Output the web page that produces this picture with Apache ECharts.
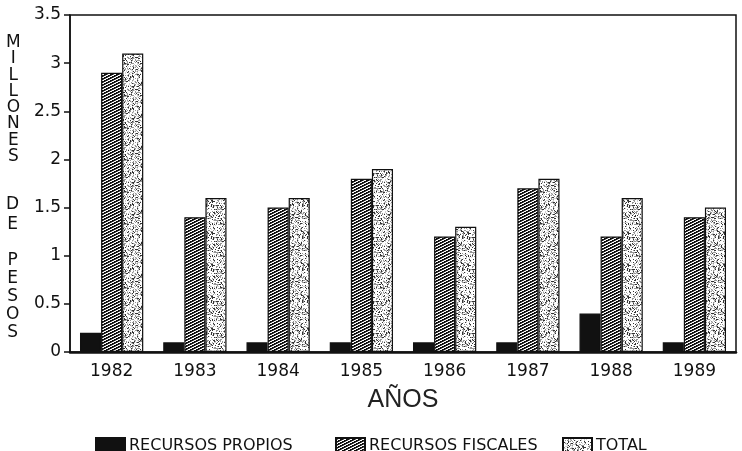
<!DOCTYPE html>
<html>
<head>
<meta charset="utf-8">
<script src="https://cdn.jsdelivr.net/npm/echarts@6/dist/echarts.min.js"></script>
<style>html,body{margin:0;padding:0;background:#fff}#c{width:742px;height:451px}</style>
</head>
<body>
<div id="c"></div>
<script>
var years = ['1982','1983','1984','1985','1986','1987','1988','1989'];
var propios = [0.2, 0.1, 0.1, 0.1, 0.1, 0.1, 0.4, 0.1];
var fiscales = [2.9, 1.4, 1.5, 1.8, 1.2, 1.7, 1.2, 1.4];
var total = [3.1, 1.6, 1.6, 1.9, 1.3, 1.8, 1.6, 1.5];
var seriesNames = ['RECURSOS PROPIOS', 'RECURSOS FISCALES', 'TOTAL'];
var yTicks = {min: 0, max: 3.5, interval: 0.5};

function hatch() {
  var n = 6;
  var c = document.createElement('canvas'); c.width = n; c.height = n;
  var x = c.getContext('2d'); var d = x.createImageData(n, n);
  for (var i = 0; i < n; i++) for (var j = 0; j < n; j++) {
    var k = (j * n + i) * 4; var m = (i + 2 * j) % 6;
    var v = m < 3 ? 15 : (m === 3 ? 120 : 255);
    d.data[k] = v; d.data[k+1] = v; d.data[k+2] = v; d.data[k+3] = 255;
  }
  x.putImageData(d, 0, 0); return c;
}
function cellHash(i, j) {
  var h = Math.imul(i, 374761393) + Math.imul(j, 668265263);
  h = Math.imul(h ^ (h >>> 13), 1274126177);
  h = h ^ (h >>> 16);
  return (h >>> 0) % 100;
}
function stipple() {
  var n = 32;
  var c = document.createElement('canvas'); c.width = n; c.height = n;
  var x = c.getContext('2d'); var d = x.createImageData(n, n);
  for (var i = 0; i < n; i++) for (var j = 0; j < n; j++) {
    var k = (j * n + i) * 4;
    var h = cellHash(i, j);
    var v = h < 14 ? 50 : (h < 30 ? 150 : (h < 42 ? 210 : 255));
    d.data[k] = v; d.data[k+1] = v; d.data[k+2] = v; d.data[k+3] = 255;
  }
  x.putImageData(d, 0, 0); return c;
}
var fills = ['#111', {image: hatch(), repeat: 'repeat'}, {image: stipple(), repeat: 'repeat'}];
var dataSets = [propios, fiscales, total];
var font = 'DejaVu Sans, Liberation Sans, sans-serif';

var chart = echarts.init(document.getElementById('c'));
var legends = [90, 330, 557].map(function (l, i) {
  return {
    data: [seriesNames[i]], left: l, top: 432, itemWidth: 29, itemHeight: 15,
    icon: 'rect', selectedMode: false,
    textStyle: {fontFamily: font, fontSize: 16, color: '#111', padding: [1, 0, 0, -1]}
  };
});
var vertical = function (s) { return s.split('').join('\n'); };
chart.setOption({
  animation: false,
  backgroundColor: '#fff',
  grid: {left: 70, right: 6, top: 15, bottom: 99, show: true, borderColor: '#111', borderWidth: 1.5, containLabel: false},
  legend: legends,
  xAxis: {
    type: 'category', data: years,
    axisLine: {lineStyle: {color: '#111', width: 2.5}},
    axisTick: {show: false},
    axisLabel: {fontFamily: font, fontSize: 17, color: '#111', margin: 11},
    name: 'AÑOS', nameLocation: 'middle', nameGap: 36,
    nameTextStyle: {fontFamily: 'Liberation Sans, Arial, sans-serif', fontSize: 25, color: '#222'}
  },
  yAxis: {
    type: 'value', min: yTicks.min, max: yTicks.max, interval: yTicks.interval,
    axisLine: {show: true, lineStyle: {color: '#111', width: 1.5}},
    axisTick: {show: true, length: 6, lineStyle: {color: '#111', width: 1.5}},
    splitLine: {show: false},
    axisLabel: {fontFamily: font, fontSize: 17, color: '#111', margin: 9}
  },
  graphic: [
    {type: 'text', left: 6, top: 34, style: {text: vertical('MILLONES'), font: '17px ' + font, lineHeight: 16.3, fill: '#111', textAlign: 'center'}},
    {type: 'text', left: 6, top: 195, style: {text: vertical('DE'), font: '17px ' + font, lineHeight: 20, fill: '#111', textAlign: 'center'}},
    {type: 'text', left: 6, top: 252, style: {text: vertical('PESOS'), font: '17px ' + font, lineHeight: 18, fill: '#111', textAlign: 'center'}}
  ],
  series: dataSets.map(function (d, i) {
    return {
      name: seriesNames[i], type: 'bar', data: d,
      barGap: '0%', barCategoryGap: '24%',
      itemStyle: {color: fills[i], borderColor: '#111', borderWidth: 1.2}
    };
  })
});
</script>
</body>
</html>
